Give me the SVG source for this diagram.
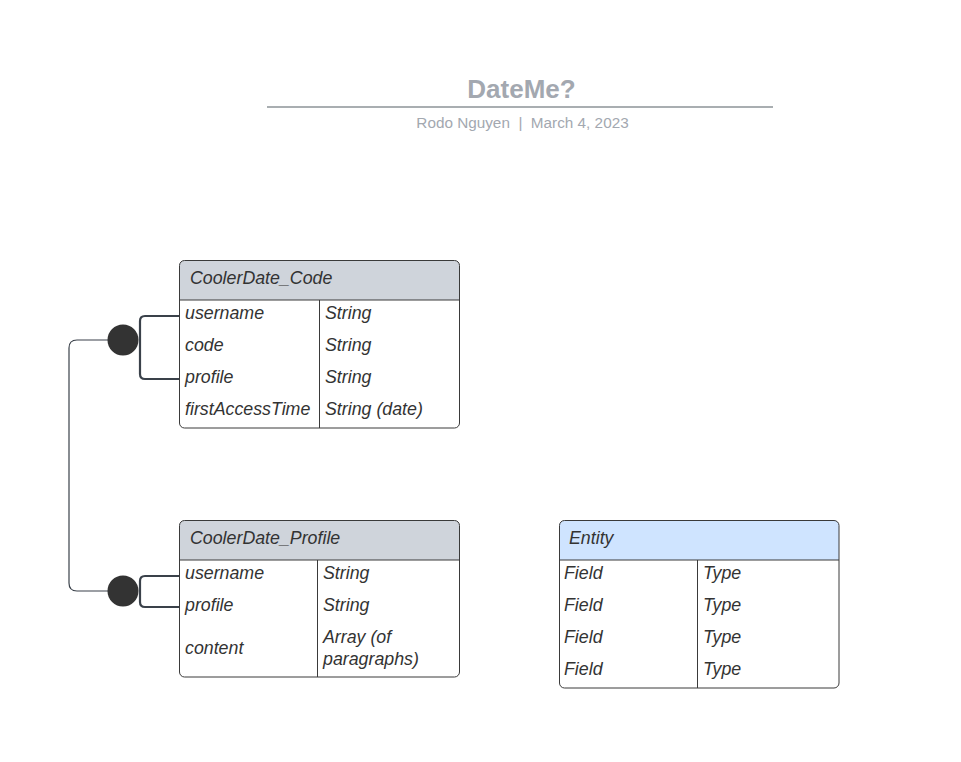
<svg xmlns="http://www.w3.org/2000/svg" width="961" height="762" viewBox="0 0 961 762">
<style>
.t{font-family:"Liberation Sans",Arial,sans-serif;font-style:italic;font-size:17.8px;fill:#333333}
.box{fill:none;stroke:#3a3a3a;stroke-width:1}
.div{stroke:#3a3a3a;stroke-width:1}
.hdr{fill:#cfd4db}
.hdrb{fill:#cfe4ff}
.conn{fill:none;stroke:#3a414a;stroke-width:2.2;stroke-linejoin:round}
.thin{fill:none;stroke:#3a414a;stroke-width:1.2}
.dot{fill:#333333}
.title{font-family:"Liberation Sans",Arial,sans-serif;font-weight:bold;font-size:26px;fill:#a3a8b0}
.sub{font-family:"Liberation Sans",Arial,sans-serif;font-size:15.3px;fill:#a3a8b0}
</style>
<rect width="961" height="762" fill="#ffffff"/>
<g id="title">
<text class="title" x="521.5" y="98" text-anchor="middle">DateMe?</text>
<line x1="267" y1="107" x2="773" y2="107" stroke="#a9aeb1" stroke-width="2"/>
<text class="sub" x="522.5" y="128" text-anchor="middle" xml:space="preserve">Rodo Nguyen  |  March 4, 2023</text>
</g>
<g id="connectors">
<path class="thin" d="M108,340 H77 Q69,340 69,348 V583 Q69,591 77,591 H108"/>
<path class="conn" d="M179,316 H145 Q140,316 140,321 V374 Q140,379 145,379 H179"/>
<path class="conn" d="M179,576 H145 Q140,576 140,581 V602 Q140,607 145,607 H179"/>
<circle class="dot" cx="123" cy="340" r="15.5"/>
<circle class="dot" cx="123" cy="591" r="15.5"/>
</g>
<g id="CoolerDate_Code">
<path class="hdr" d="M184.5,260.5 H454.5 Q459.5,260.5 459.5,265.5 V300 H179.5 V265.5 Q179.5,260.5 184.5,260.5 Z"/>
<rect class="box" x="179.5" y="260.5" width="280" height="167.5" rx="5"/>
<line class="div" x1="179.5" y1="300" x2="459.5" y2="300"/>
<line class="div" x1="319.5" y1="300" x2="319.5" y2="428"/>
<text class="t" x="190" y="284">CoolerDate_Code</text>
<text class="t" x="185" y="319">username</text>
<text class="t" x="325" y="319">String</text>
<text class="t" x="185" y="351">code</text>
<text class="t" x="325" y="351">String</text>
<text class="t" x="185" y="383">profile</text>
<text class="t" x="325" y="383">String</text>
<text class="t" x="185" y="415">firstAccessTime</text>
<text class="t" x="325" y="415">String (date)</text>
</g>
<g id="CoolerDate_Profile">
<path class="hdr" d="M184.5,520.5 H454.5 Q459.5,520.5 459.5,525.5 V560 H179.5 V525.5 Q179.5,520.5 184.5,520.5 Z"/>
<rect class="box" x="179.5" y="520.5" width="280" height="156.5" rx="5"/>
<line class="div" x1="179.5" y1="560" x2="459.5" y2="560"/>
<line class="div" x1="317.5" y1="560" x2="317.5" y2="677"/>
<text class="t" x="190" y="544">CoolerDate_Profile</text>
<text class="t" x="185" y="579">username</text>
<text class="t" x="323" y="579">String</text>
<text class="t" x="185" y="611">profile</text>
<text class="t" x="323" y="611">String</text>
<text class="t" x="185" y="654">content</text>
<text class="t" x="323" y="643">Array (of</text>
<text class="t" x="323" y="665">paragraphs)</text>
</g>
<g id="Entity">
<path class="hdrb" d="M564.5,520.5 H834 Q839,520.5 839,525.5 V560 H559.5 V525.5 Q559.5,520.5 564.5,520.5 Z"/>
<rect class="box" x="559.5" y="520.5" width="279.5" height="167.5" rx="5"/>
<line class="div" x1="559.5" y1="560" x2="839" y2="560"/>
<line class="div" x1="697.5" y1="560" x2="697.5" y2="688"/>
<text class="t" x="569" y="544">Entity</text>
<text class="t" x="564" y="579">Field</text>
<text class="t" x="703" y="579">Type</text>
<text class="t" x="564" y="611">Field</text>
<text class="t" x="703" y="611">Type</text>
<text class="t" x="564" y="643">Field</text>
<text class="t" x="703" y="643">Type</text>
<text class="t" x="564" y="675">Field</text>
<text class="t" x="703" y="675">Type</text>
</g>
</svg>
